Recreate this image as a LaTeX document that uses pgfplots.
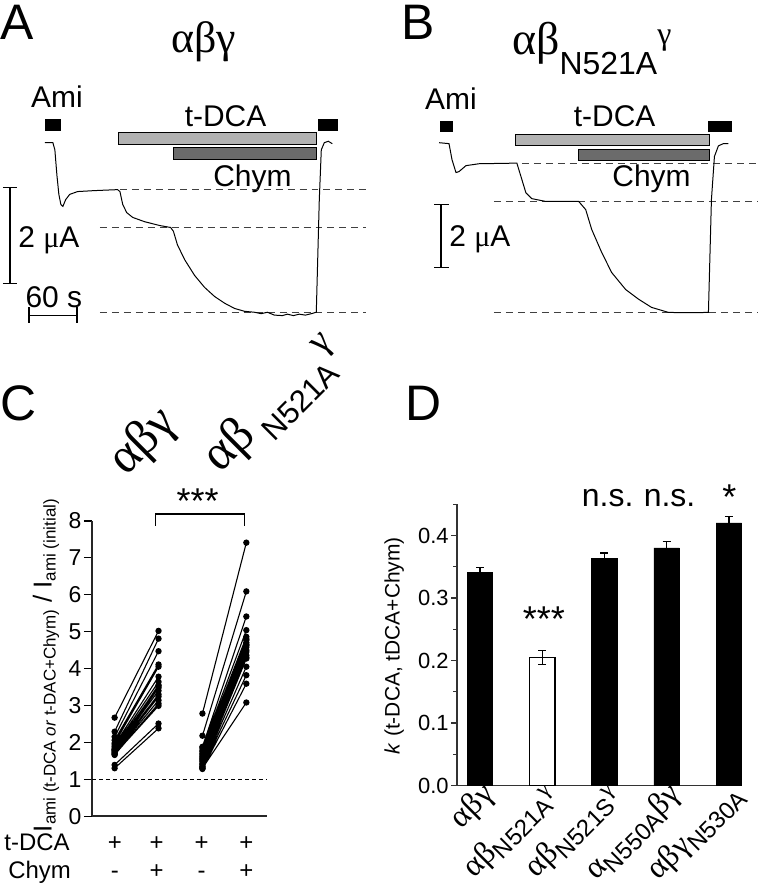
\documentclass[border=0pt]{standalone}
\usepackage{fontspec}
\setmainfont{Liberation Sans}
\newfontfamily\grk{Liberation Serif}
\usepackage{pgfplots}
\pgfplotsset{compat=1.18}
\newcommand{\fs}[1]{\fontsize{#1}{#1}\selectfont}
\begin{document}
\begin{tikzpicture}
\begin{scope}[x=0.5pt,y=-0.5pt]
\path[use as bounding box] (0,0) rectangle (760,886);
% panel letters
\node[anchor=base west,inner sep=0,font=\fs{25}] at (0,40) {A};
\node[anchor=base west,inner sep=0,font=\fs{25}] at (402,40) {B};
\node[anchor=base west,inner sep=0,font=\fs{25}] at (0,421) {C};
\node[anchor=base west,inner sep=0,font=\fs{25}] at (406,421) {D};
% titles
\node[anchor=base,inner sep=0] at (204,53) {\fs{22}\grk αβγ};
\node[anchor=base west,inner sep=0] at (513,55) {\fs{23}\grk αβ\raisebox{-10pt}{\fs{16}\rmfamily N521A}\raisebox{5pt}{\fs{16}γ}};
% labels A
\node[anchor=base,inner sep=0,font=\fs{15}] at (57,108) {Ami};
\node[anchor=base,inner sep=0,font=\fs{15}] at (226,127) {t-DCA};
\node[anchor=base,inner sep=0,font=\fs{15}] at (253,187) {Chym};
\node[anchor=base west,inner sep=0,font=\fs{15}] at (18,248) {2 {\grk μ}A};
\node[anchor=base,inner sep=0,font=\fs{15}] at (54,308) {60 s};
\draw[line width=0.7pt] (10,188) -- (10,284) (3,188) -- (17,188) (3,284) -- (17,284);
\draw[line width=0.7pt] (29,308) -- (29,324) (29,316) -- (77,316) (77,308) -- (77,324);
% labels B
\node[anchor=base,inner sep=0,font=\fs{15}] at (452,110) {Ami};
\node[anchor=base,inner sep=0,font=\fs{15}] at (616,127) {t-DCA};
\node[anchor=base,inner sep=0,font=\fs{15}] at (653,187) {Chym};
\node[anchor=base west,inner sep=0,font=\fs{15}] at (450,247) {2 {\grk μ}A};
\draw[line width=0.7pt] (442,205) -- (442,268) (435,205) -- (450,205) (435,268) -- (450,268);
% panel C annotations
\node[anchor=base west,inner sep=0,rotate=45] at (126,478) {\fs{25}\grk αβγ};
\node[anchor=base west,inner sep=0,rotate=45] at (221,475) {\fs{25}\grk αβ\raisebox{-8pt}{\fs{15.5}\rmfamily\ N521A}\raisebox{6pt}{\fs{19}γ}};
\node[anchor=base,inner sep=0,font=\fs{18}] at (198,515) {***};
\draw[line width=0.7pt] (156,527) -- (156,515) -- (245,515) -- (245,527);
\node[anchor=base west,inner sep=0,font=\fs{12}] at (4,852) {t-DCA};
\node[anchor=base west,inner sep=0,font=\fs{12}] at (8,880) {Chym};
\foreach \xx in {115,157,202,247} {\node[anchor=base,inner sep=0,font=\fs{12}] at (\xx,852) {+};}
\foreach \xx in {157,247} {\node[anchor=base,inner sep=0,font=\fs{12}] at (\xx,880) {+};}
\foreach \xx in {115,202} {\node[anchor=base,inner sep=0,font=\fs{12}] at (\xx,880) {-};}
\node[rotate=90,inner sep=0] at (46,667) {\fs{13}I\raisebox{-2pt}{\fs{8.5}ami (t-DCA \textit{or} t-DAC+Chym)} / I\raisebox{-2pt}{\fs{8.5}ami (initial)}};
% panel D annotations
\node[anchor=base,inner sep=0,font=\fs{16}] at (609,508) {n.s.};
\node[anchor=base,inner sep=0,font=\fs{16}] at (671,508) {n.s.};
\node[anchor=base,inner sep=0,font=\fs{18}] at (731,511) {*};
\node[anchor=base,inner sep=0,font=\fs{18}] at (545,633) {***};
\node[rotate=90,inner sep=0,font=\fs{10.5}] at (395,647) {\textit{k} (t-DCA, tDCA+Chym)};
\end{scope}

% ---------- Panel A trace ----------
\begin{axis}[at={(0pt,-170pt)},anchor=south west,scale only axis,width=190pt,height=170pt,
  xmin=-56.25,xmax=418.75,ymin=-4.104,ymax=2.979,hide axis,clip=false]
\addplot[black!75,line width=0.5pt,dash pattern=on 3.5pt off 2.5pt] coordinates {(94,-0.98)(402.5,-0.98)};
\addplot[black!75,line width=0.5pt,dash pattern=on 3.5pt off 2.5pt] coordinates {(69,-1.77)(402.5,-1.77)};
\addplot[black!75,line width=0.5pt,dash pattern=on 3.5pt off 2.5pt] coordinates {(69,-3.54)(402.5,-3.54)};
\addplot[black,line width=0.5pt] coordinates {
(0,0)(10,0)(12.5,-0.15)(15,-0.67)(17.5,-1.08)(20,-1.29)(22.5,-1.33)(26,-1.19)(31,-1.08)(41,-1.02)(62.5,-1.0)(91,-0.98)
(94,-1.02)(97.5,-1.29)(102.5,-1.46)(110,-1.56)(125,-1.65)(144,-1.73)(157.5,-1.77)
(161,-1.85)(166,-2.13)(175,-2.44)(187.5,-2.77)(200,-3.02)(212.5,-3.21)(225,-3.35)(237.5,-3.46)(250,-3.52)(262.5,-3.54)
(271,-3.57)(278.75,-3.54)(287.5,-3.60)(297.5,-3.61)(303.75,-3.58)(311.25,-3.61)(318.75,-3.58)(326.25,-3.60)(333.75,-3.57)(340,-3.54)
(343.75,-1.19)(346.25,-0.15)(350,0)(355,0.03)(360,-0.02)};
\addplot[fill=black,draw=black,line width=0.4pt] coordinates {(0,0.48)(20,0.48)(20,0.25)(0,0.25)} -- cycle;
\addplot[fill=black,draw=black,line width=0.4pt] coordinates {(342.5,0.48)(366,0.48)(366,0.25)(342.5,0.25)} -- cycle;
\addplot[fill=black!30,draw=black,line width=0.4pt] coordinates {(92.5,0.21)(340,0.21)(340,-0.04)(92.5,-0.04)} -- cycle;
\addplot[fill=black!58,draw=black,line width=0.4pt] coordinates {(161,-0.10)(340,-0.10)(340,-0.35)(161,-0.35)} -- cycle;
\end{axis}

% ---------- Panel B trace ----------
\begin{axis}[at={(190pt,-170pt)},anchor=south west,scale only axis,width=190pt,height=170pt,
  xmin=-75,xmax=400,ymin=-6.254,ymax=4.540,hide axis,clip=false]
\addplot[black!75,line width=0.5pt,dash pattern=on 3.5pt off 2.5pt] coordinates {(103.75,-0.667)(400,-0.667)};
\addplot[black!75,line width=0.5pt,dash pattern=on 3.5pt off 2.5pt] coordinates {(68.75,-1.873)(400,-1.873)};
\addplot[black!75,line width=0.5pt,dash pattern=on 3.5pt off 2.5pt] coordinates {(68.75,-5.40)(400,-5.40)};
\addplot[black,line width=0.5pt] coordinates {
(0,0)(12.5,-0.03)(16.25,-0.54)(21.25,-0.95)(25,-0.92)(33.75,-0.73)(50,-0.67)(97.5,-0.65)
(103.75,-1.17)(108.75,-1.59)(116.25,-1.78)(133.75,-1.87)(158.75,-1.87)(175,-1.87)
(183.75,-2.13)(191.25,-2.76)(203.75,-3.49)(216.25,-4.13)(233.75,-4.67)(250,-4.98)(266.25,-5.24)(287.5,-5.40)(312.5,-5.41)(337.5,-5.40)
(341.25,-1.81)(345,-0.44)(350,-0.10)(356.25,-0.03)(362.5,-0.03)};
\addplot[fill=black,draw=black,line width=0.4pt] coordinates {(1.25,0.667)(16.25,0.667)(16.25,0.349)(1.25,0.349)} -- cycle;
\addplot[fill=black,draw=black,line width=0.4pt] coordinates {(337.5,0.667)(366.25,0.667)(366.25,0.349)(337.5,0.349)} -- cycle;
\addplot[fill=black!30,draw=black,line width=0.4pt] coordinates {(96.25,0.254)(338.75,0.254)(338.75,-0.095)(96.25,-0.095)} -- cycle;
\addplot[fill=black!58,draw=black,line width=0.4pt] coordinates {(175,-0.222)(338.75,-0.222)(338.75,-0.571)(175,-0.571)} -- cycle;
\end{axis}

% ---------- Panel C ----------
\begin{axis}[at={(46pt,-409pt)},anchor=south west,scale only axis,width=88pt,height=148pt,
  xmin=0.48,xmax=4.48,ymin=0,ymax=8,axis x line=bottom,axis y line=left,
  axis line style={-,line width=0.8pt,black!85},xtick=\empty,ytick={0,1,2,3,4,5,6,7,8},
  tick align=outside,major tick length=4pt,tick style={black,line width=0.7pt},
  yticklabel style={font=\fs{11.5},inner sep=1pt},/pgf/number format/assume math mode=true,
  clip=false,unbounded coords=jump]
\addplot[black,line width=0.5pt,dash pattern=on 2pt off 1.5pt] coordinates {(0.48,1)(4.48,1)};
\addplot[black,line width=0.55pt,mark=*,mark size=1.3pt] coordinates {
(1,2.67)(2,5.02)(1.5,nan)(1,2.29)(2,4.81)(1.5,nan)(1,2.15)(2,4.47)(1.5,nan)(1,2.06)(2,4.11)(1.5,nan)
(1,1.98)(2,4.05)(1.5,nan)(1,1.93)(2,3.78)(1.5,nan)(1,1.88)(2,3.64)(1.5,nan)(1,1.84)(2,3.53)(1.5,nan)
(1,1.80)(2,3.48)(1.5,nan)(1,1.78)(2,3.40)(1.5,nan)(1,1.75)(2,3.30)(1.5,nan)(1,1.72)(2,3.24)(1.5,nan)
(1,1.70)(2,3.14)(1.5,nan)(1,1.66)(2,3.05)(1.5,nan)(1,1.68)(2,2.99)(1.5,nan)(1,1.80)(2,3.55)(1.5,nan)
(1,1.39)(2,2.51)(1.5,nan)(1,1.30)(2,2.38)};
\addplot[black,line width=0.55pt,mark=*,mark size=1.3pt] coordinates {
(3,2.78)(4,7.41)(3.5,nan)(3,2.18)(4,6.09)(3.5,nan)(3,1.88)(4,5.41)(3.5,nan)(3,1.85)(4,5.04)(3.5,nan)
(3,1.79)(4,4.86)(3.5,nan)(3,1.75)(4,4.80)(3.5,nan)(3,1.70)(4,4.77)(3.5,nan)(3,1.66)(4,4.70)(3.5,nan)
(3,1.62)(4,4.63)(3.5,nan)(3,1.58)(4,4.58)(3.5,nan)(3,1.52)(4,4.50)(3.5,nan)(3,1.48)(4,4.45)(3.5,nan)
(3,1.43)(4,4.36)(3.5,nan)(3,1.40)(4,4.30)(3.5,nan)(3,1.36)(4,4.27)(3.5,nan)(3,1.34)(4,4.05)(3.5,nan)
(3,1.31)(4,3.82)(3.5,nan)(3,1.28)(4,3.59)(3.5,nan)(3,1.30)(4,3.08)(3.5,nan)(3,1.55)(4,4.65)};
\end{axis}

% ---------- Panel D ----------
\begin{axis}[at={(229pt,-393.65pt)},anchor=south west,scale only axis,width=142.5pt,height=141pt,
  xmin=0.63,xmax=5.2,ymin=0,ymax=0.45,axis x line=bottom,axis y line=left,
  axis line style={-,line width=0.7pt,black!80},
  ytick={0,0.1,0.2,0.3,0.4},minor ytick={0.05,0.15,0.25,0.35,0.45},
  tick align=outside,major tick length=3pt,minor tick length=2pt,tick style={black!80,line width=0.6pt},
  xtick={1,2,3,4,5},major x tick style={draw=none},
  xticklabels={{\grk αβγ},{\grk αβ\raisebox{-3.5pt}{\fs{12}\rmfamily N521A}\raisebox{3.5pt}{\fs{12}γ}},
    {\grk αβ\raisebox{-3.5pt}{\fs{12}\rmfamily N521S}\raisebox{3.5pt}{\fs{12}γ}},
    {\grk α\raisebox{-3.5pt}{\fs{12}\rmfamily N550A}βγ},
    {\grk αβγ\raisebox{-3.5pt}{\fs{12}\rmfamily N530A}}},
  xticklabel style={rotate=45,anchor=east,font=\fs{16},inner sep=0pt,xshift=4pt,yshift=-3pt},
  yticklabel style={font=\fs{11},inner sep=1pt,/pgf/number format/.cd,fixed,fixed zerofill,precision=1,assume math mode=true},
  clip=false]
\addplot[ybar,bar width=12.75pt,bar shift=0pt,fill=black,draw=black,
  error bars/.cd,y dir=plus,y explicit,error bar style={line width=0.6pt,black},error mark options={rotate=90,mark size=2pt,line width=0.6pt,black}]
  coordinates {(1,0.341) +- (0,0.008) (3,0.363) +- (0,0.009) (4,0.380) +- (0,0.010) (5,0.420) +- (0,0.010)};
\addplot[ybar,bar width=12.75pt,bar shift=0pt,fill=white,draw=black,line width=0.6pt,
  error bars/.cd,y dir=both,y explicit,error bar style={line width=0.6pt,black},error mark options={rotate=90,mark size=2pt,line width=0.6pt,black}]
  coordinates {(2,0.205) +- (0,0.011)};
\end{axis}
\end{tikzpicture}
\end{document}
